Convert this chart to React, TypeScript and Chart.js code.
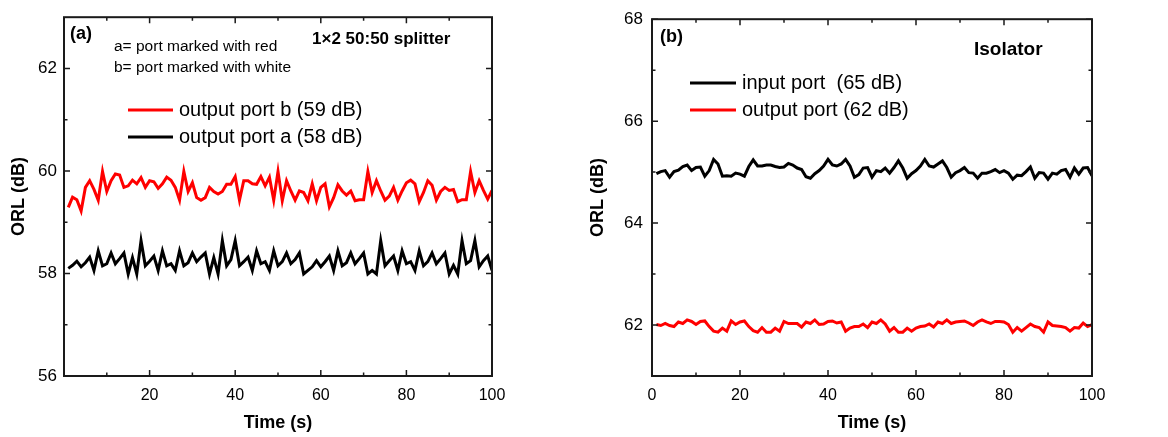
import React, { useEffect, useRef } from "react";
import { Chart, registerables } from "chart.js";

Chart.register(...registerables);

const FONT = "'Liberation Sans', Arial, Helvetica, sans-serif";

// ---------- data ----------
const timeSeconds = [
  1, 2, 3, 4, 5, 6, 7, 8, 9, 10, 11, 12, 13, 14, 15, 16, 17, 18, 19, 20,
  21, 22, 23, 24, 25, 26, 27, 28, 29, 30, 31, 32, 33, 34, 35, 36, 37, 38, 39, 40,
  41, 42, 43, 44, 45, 46, 47, 48, 49, 50, 51, 52, 53, 54, 55, 56, 57, 58, 59, 60,
  61, 62, 63, 64, 65, 66, 67, 68, 69, 70, 71, 72, 73, 74, 75, 76, 77, 78, 79, 80,
  81, 82, 83, 84, 85, 86, 87, 88, 89, 90, 91, 92, 93, 94, 95, 96, 97, 98, 99, 100,
];

// Panel (a): 1x2 50:50 splitter
const splitterPortB = [
  59.29, 59.49, 59.44, 59.22, 59.68, 59.81, 59.64, 59.43, 59.99, 59.6,
  59.81, 59.94, 59.92, 59.68, 59.71, 59.82, 59.75, 59.87, 59.68, 59.81,
  59.79, 59.66, 59.75, 59.88, 59.82, 59.68, 59.43, 59.99, 59.6, 59.77,
  59.48, 59.43, 59.48, 59.68, 59.6, 59.55, 59.6, 59.74, 59.74, 59.89,
  59.43, 59.81, 59.81, 59.75, 59.74, 59.89, 59.71, 59.88, 59.43, 59.99,
  59.42, 59.81, 59.61, 59.43, 59.61, 59.58, 59.42, 59.75, 59.42, 59.68,
  59.75, 59.3, 59.48, 59.73, 59.61, 59.53, 59.61, 59.42, 59.44, 59.44,
  59.99, 59.58, 59.81, 59.61, 59.43, 59.51, 59.68, 59.43, 59.61, 59.77,
  59.82, 59.75, 59.4, 59.58, 59.81, 59.72, 59.43, 59.6, 59.68, 59.62,
  59.64, 59.4, 59.44, 59.44, 59.99, 59.58, 59.81, 59.62, 59.45, 59.62,
];
const splitterPortA = [
  58.1, 58.16, 58.24, 58.13, 58.21, 58.32, 58.06, 58.44, 58.15, 58.19,
  58.4, 58.19, 58.29, 58.4, 57.99, 58.31, 57.99, 58.64, 58.15, 58.24,
  58.34, 58.06, 58.44, 58.15, 58.19, 58.06, 58.44, 58.15, 58.21, 58.4,
  58.23, 58.32, 58.4, 57.99, 58.31, 57.99, 58.64, 58.15, 58.27, 58.64,
  58.15, 58.23, 58.32, 58.06, 58.44, 58.19, 58.23, 58.06, 58.44, 58.15,
  58.23, 58.4, 58.19, 58.27, 58.4, 57.99, 58.06, 58.13, 58.25, 58.13,
  58.23, 58.34, 58.06, 58.44, 58.15, 58.21, 58.4, 58.19, 58.29, 58.4,
  57.99, 58.06, 57.99, 58.64, 58.15, 58.25, 58.34, 58.06, 58.44, 58.19,
  58.23, 58.06, 58.44, 58.15, 58.23, 58.4, 58.19, 58.29, 58.4, 57.99,
  58.16, 57.99, 58.64, 58.19, 58.25, 58.64, 58.13, 58.25, 58.34, 58.06,
];

// Panel (b): isolator
const isolatorInput = [
  64.97, 65.01, 65.03, 64.9, 65.01, 65.04, 65.11, 65.14, 65.03, 65.09,
  65.1, 64.92, 65.03, 65.25, 65.16, 64.92, 64.93, 64.92, 64.98, 64.96,
  64.92, 65.11, 65.24, 65.12, 65.12, 65.14, 65.14, 65.11, 65.09, 65.1,
  65.17, 65.14, 65.08, 65.05, 64.91, 64.88, 64.97, 65.03, 65.12, 65.25,
  65.14, 65.12, 65.16, 65.25, 65.12, 64.9, 64.95, 65.08, 65.09, 64.9,
  65.03, 65.01, 65.08, 64.98, 65.09, 65.22, 65.08, 64.88, 64.97, 65.03,
  65.12, 65.25, 65.12, 65.1, 65.16, 65.22, 65.09, 64.9, 64.99, 65.03,
  65.09, 64.99, 64.98, 64.88, 64.98, 64.98, 65.01, 65.05, 64.99, 65.03,
  64.98, 64.86, 64.94, 64.93, 65.01, 65.1, 64.88, 64.99, 64.98, 64.86,
  64.98, 64.96, 65.03, 65.05, 64.9, 65.08, 64.96, 65.08, 65.09, 64.93,
];
const isolatorOutput = [
  62.01, 61.99, 62.03, 61.99, 61.97, 62.06, 62.03, 62.1, 62.07, 62.01,
  62.07, 62.08, 61.97, 61.88, 61.86, 61.94, 61.88, 62.08, 62.01, 62.06,
  62.08, 61.97, 61.89, 61.86, 61.95, 61.86, 61.86, 61.94, 61.88, 62.07,
  62.03, 62.03, 62.03, 61.96, 62.06, 62.03, 62.1, 62.01, 62.02, 62.07,
  62.08, 62.04, 62.06, 61.88, 61.94, 61.97, 61.97, 62.02, 61.95, 62.06,
  62.03, 62.1, 62.02, 61.88, 61.95, 61.86, 61.86, 61.94, 61.88, 61.94,
  61.97, 61.98, 62.02, 61.96, 62.06, 62.03, 62.1, 62.03, 62.06, 62.07,
  62.08, 62.04, 61.99, 62.06, 62.1, 62.06, 62.03, 62.07, 62.07, 62.06,
  62.01, 61.86, 61.95, 61.88, 61.95, 62.02, 61.97, 61.95, 61.86, 62.06,
  61.99, 61.98, 61.97, 61.95, 61.88, 61.95, 61.94, 62.04, 61.97, 62.01,
];

// tick labels
const xTicksA = [20, 40, 60, 80, 100];
const xMinorA = [0, 10, 30, 50, 70, 90];
const yTicksA = [56, 58, 60, 62];
const yMinorA = [57, 59, 61];

const xTicksB = [0, 20, 40, 60, 80, 100];
const xMinorB = [10, 30, 50, 70, 90];
const yTicksB = [62, 64, 66, 68];
const yMinorB = [61, 63, 65, 67];

const labelsA = ["output port b (59 dB)", "output port a (58 dB)"];
const labelsB = ["input port  (65 dB)", "output port (62 dB)"];
const colorsA = ["#ff0000", "#000000"];
const colorsB = ["#000000", "#ff0000"];

type Note = { text: string; x: number; y: number; font: string };

type PanelCfg = {
  width: number;
  height: number;
  plotLeft: number;
  plotRight: number;
  plotTop: number;
  plotBottom: number;
  xMin: number;
  xMax: number;
  yMin: number;
  yMax: number;
  xTicks: number[];
  xMinor: number[];
  yTicks: number[];
  yMinor: number[];
  series: number[][];
  labels: string[];
  colors: string[];
  yTitlePad: number;
  yTickPad: number;
  legend: { lineX: number; textX: number; rows: number[] };
  notes: Note[];
};

function makeOverlay(cfg: PanelCfg) {
  return {
    id: "overlay",
    afterDatasetsDraw(chart: any) {
      const ctx = chart.ctx as CanvasRenderingContext2D;
      const { left, right, top, bottom } = chart.chartArea;
      const xs = chart.scales.x;
      const ys = chart.scales.y;
      ctx.save();
      ctx.strokeStyle = "#1a1a1a";
      ctx.lineWidth = 2;
      ctx.strokeRect(left, top, right - left, bottom - top);
      const major = 6;
      const minor = 3.5;
      ctx.lineWidth = 1.5;
      const vx = (v: number, len: number) => {
        const p = xs.getPixelForValue(v);
        ctx.beginPath();
        ctx.moveTo(p, bottom);
        ctx.lineTo(p, bottom - len);
        ctx.moveTo(p, top);
        ctx.lineTo(p, top + len);
        ctx.stroke();
      };
      const hy = (v: number, len: number) => {
        const p = ys.getPixelForValue(v);
        ctx.beginPath();
        ctx.moveTo(left, p);
        ctx.lineTo(left + len, p);
        ctx.moveTo(right, p);
        ctx.lineTo(right - len, p);
        ctx.stroke();
      };
      cfg.xTicks.forEach((v) => vx(v, major));
      cfg.xMinor.forEach((v) => vx(v, minor));
      cfg.yTicks.forEach((v) => hy(v, major));
      cfg.yMinor.forEach((v) => hy(v, minor));

      // legend
      const lg = cfg.legend;
      chart.data.datasets.forEach((ds: any, i: number) => {
        const y = lg.rows[i];
        ctx.strokeStyle = ds.borderColor;
        ctx.lineWidth = 3;
        ctx.beginPath();
        ctx.moveTo(lg.lineX, y);
        ctx.lineTo(lg.textX - 6, y);
        ctx.stroke();
        ctx.fillStyle = "#000";
        ctx.font = `20px ${FONT}`;
        ctx.textBaseline = "middle";
        ctx.textAlign = "left";
        ctx.fillText(ds.label, lg.textX, y);
      });

      // annotations
      cfg.notes.forEach((n) => {
        ctx.fillStyle = "#000";
        ctx.font = `${n.font} ${FONT}`;
        ctx.textBaseline = "middle";
        ctx.textAlign = "left";
        ctx.fillText(n.text, n.x, n.y);
      });
      ctx.restore();
    },
  };
}

function Panel({ cfg, left }: { cfg: PanelCfg; left: number }) {
  const ref = useRef<HTMLCanvasElement | null>(null);
  useEffect(() => {
    if (!ref.current) return;
    const chart = new Chart(ref.current, {
      type: "line",
      data: {
        datasets: cfg.series.map((vals, i) => ({
          label: cfg.labels[i],
          data: vals.map((v, k) => ({ x: timeSeconds[k], y: v })),
          borderColor: cfg.colors[i],
          backgroundColor: cfg.colors[i],
          borderWidth: 3,
          pointRadius: 0,
          tension: 0,
          fill: false,
        })),
      },
      options: {
        animation: false,
        responsive: false,
        devicePixelRatio: 1,
        layout: {
          padding: {
            left: 0,
            top: cfg.plotTop,
            right: cfg.width - cfg.plotRight,
            bottom: 0,
          },
        },
        plugins: { legend: { display: false }, tooltip: { enabled: false } },
        scales: {
          x: {
            type: "linear",
            min: cfg.xMin,
            max: cfg.xMax,
            afterBuildTicks: (s: any) => {
              s.ticks = cfg.xTicks.map((v) => ({ value: v }));
            },
            afterFit: (s: any) => {
              s.height = cfg.height - cfg.plotBottom;
            },
            grid: { display: false, drawTicks: false },
            border: { display: false },
            ticks: {
              color: "#000",
              font: { family: FONT, size: 16 },
              padding: 10,
              maxRotation: 0,
              autoSkip: false,
            },
            title: {
              display: true,
              text: "Time (s)",
              color: "#000",
              font: { family: FONT, size: 18, weight: "bold" },
              padding: { top: 0, bottom: 3 },
            },
          },
          y: {
            type: "linear",
            min: cfg.yMin,
            max: cfg.yMax,
            afterBuildTicks: (s: any) => {
              s.ticks = cfg.yTicks.map((v) => ({ value: v }));
            },
            afterFit: (s: any) => {
              s.width = cfg.plotLeft;
            },
            grid: { display: false, drawTicks: false },
            border: { display: false },
            ticks: {
              color: "#000",
              font: { family: FONT, size: 17 },
              padding: cfg.yTickPad,
              autoSkip: false,
            },
            title: {
              display: true,
              text: "ORL (dB)",
              color: "#000",
              font: { family: FONT, size: 18, weight: "bold" },
              padding: { top: cfg.yTitlePad, bottom: 0 },
            },
          },
        },
      },
      plugins: [makeOverlay(cfg)],
    } as any);
    return () => chart.destroy();
  }, [cfg]);
  return (
    <canvas
      ref={ref}
      width={cfg.width}
      height={cfg.height}
      style={{ position: "absolute", left, top: 0, width: cfg.width, height: cfg.height }}
    />
  );
}

const cfgA: PanelCfg = {
  width: 560,
  height: 437,
  plotLeft: 64,
  plotRight: 492,
  plotTop: 15,
  plotBottom: 376,
  xMin: 0,
  xMax: 100,
  yMin: 56,
  yMax: 63,
  xTicks: xTicksA,
  xMinor: xMinorA,
  yTicks: yTicksA,
  yMinor: yMinorA,
  series: [splitterPortB, splitterPortA],
  labels: labelsA,
  colors: colorsA,
  yTitlePad: 8,
  yTickPad: 7,
  legend: { lineX: 128, textX: 179, rows: [110, 137] },
  notes: [
    { text: "(a)", x: 70, y: 34, font: "bold 18px" },
    { text: "a= port marked with red", x: 114, y: 47, font: "15.5px" },
    { text: "b= port marked with white", x: 114, y: 68, font: "15.5px" },
    { text: "1×2 50:50 splitter", x: 312, y: 39, font: "bold 17px" },
  ],
};

const cfgB: PanelCfg = {
  width: 608,
  height: 437,
  plotLeft: 92,
  plotRight: 532,
  plotTop: 15,
  plotBottom: 376,
  xMin: 0,
  xMax: 100,
  yMin: 61,
  yMax: 68,
  xTicks: xTicksB,
  xMinor: xMinorB,
  yTicks: yTicksB,
  yMinor: yMinorB,
  series: [isolatorInput, isolatorOutput],
  labels: labelsB,
  colors: colorsB,
  yTitlePad: 27,
  yTickPad: 9,
  legend: { lineX: 130, textX: 182, rows: [83, 110] },
  notes: [
    { text: "(b)", x: 100, y: 37, font: "bold 18px" },
    { text: "Isolator", x: 414, y: 50, font: "bold 19px" },
  ],
};

export default function App() {
  return (
    <div
      style={{
        position: "fixed",
        left: 0,
        top: 0,
        width: 1168,
        height: 437,
        background: "#fff",
        overflow: "hidden",
      }}
    >
      <Panel cfg={cfgA} left={0} />
      <Panel cfg={cfgB} left={560} />
    </div>
  );
}
